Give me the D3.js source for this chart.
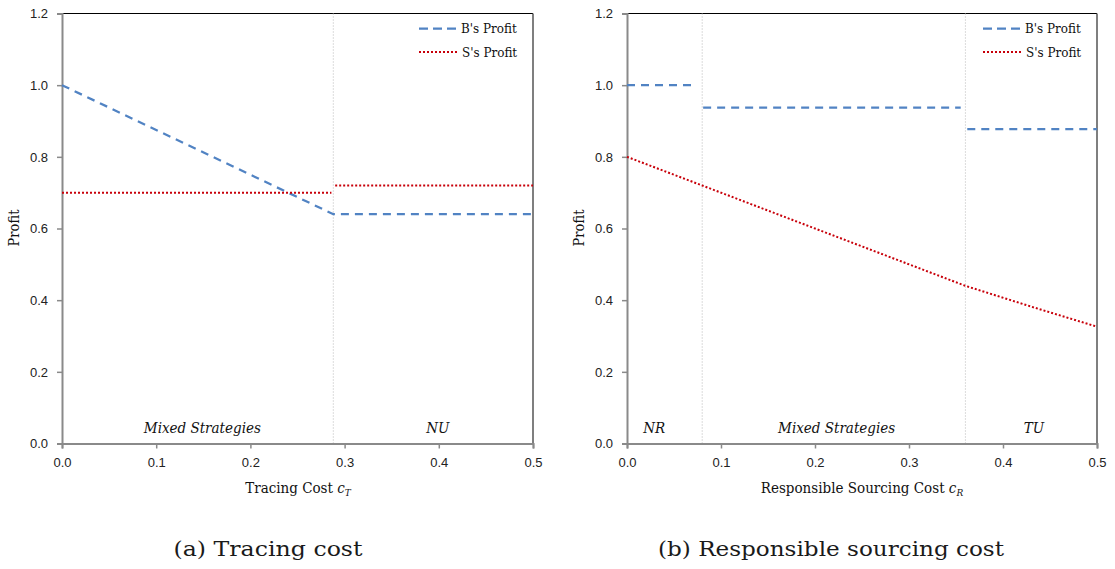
<!DOCTYPE html>
<html>
<head>
<meta charset="utf-8">
<script src="https://cdn.jsdelivr.net/npm/d3@7"></script>
<style>
body { margin: 0; background: #fff; }
svg { display: block; }
.tick text { font-family: "Liberation Sans", Arial, sans-serif; font-size: 13px; fill: #222; }
.serif { font-family: "DejaVu Serif Condensed", "DejaVu Serif", serif; fill: #111; }
.capt { font-family: "DejaVu Serif", serif; fill: #1a1a1a; }
</style>
</head>
<body>
<svg id="chart" width="1115" height="569"></svg>
<script>
var W = 1115, H = 569;
var yTop = 13.5, yBot = 443.5;

// data
var xTicks = [0, 0.1, 0.2, 0.3, 0.4, 0.5];
var yTicks = [0, 0.2, 0.4, 0.6, 0.8, 1.0, 1.2];

var bLeft = [[[0, 1.0], [0.288, 0.64], [0.5, 0.64]]];
var sLeft = [[[0, 0.70], [0.286, 0.70]], [[0.29, 0.72], [0.5, 0.72]]];
var bordersLeft = [0.288];
var regionsLeft = ["Mixed Strategies", "NU"];
var regionXLeft = [0.149, 0.399];

var bRight = [[[0, 1.0], [0.074, 1.0]], [[0.081, 0.9375], [0.355, 0.9375]], [[0.362, 0.877], [0.5, 0.877]]];
var sRight = [[[0, 0.80], [0.08, 0.72], [0.36, 0.44], [0.43, 0.382], [0.5, 0.326]]];
var bordersRight = [0.08, 0.36];
var regionsRight = ["NR", "Mixed Strategies", "TU"];
var regionXRight = [0.029, 0.223, 0.433];

var svg = d3.select('#chart');

function drawPanel(opt){
	var x = d3.scaleLinear().domain([0, 0.5]).range([opt.x0, opt.x1]);
	var y = d3.scaleLinear().domain([0, 1.2]).range([yBot, yTop]);
	var g = svg.append('g');

	// frame: top black, right dark
	g.append('line').attr('x1', opt.x0).attr('x2', opt.x1).attr('y1', yTop).attr('y2', yTop)
		.attr('stroke', '#000').attr('stroke-width', 1.2);
	g.append('line').attr('x1', opt.x1).attr('x2', opt.x1).attr('y1', yTop).attr('y2', yBot)
		.attr('stroke', '#555').attr('stroke-width', 1.5);

	// region borders
	g.selectAll('.border').data(opt.borders).enter().append('line')
		.attr('x1', d => x(d)).attr('x2', d => x(d))
		.attr('y1', yTop).attr('y2', yBot)
		.attr('stroke', '#b8b8b8').attr('stroke-width', 1)
		.attr('stroke-dasharray', '1,2');

	var yAxis = d3.axisLeft(y).tickValues(yTicks).tickFormat(d3.format('.1f'))
		.tickSize(5).tickPadding(9);
	var ya = g.append('g').attr('transform', `translate(${opt.x0},0)`).call(yAxis);
	var xAxis = d3.axisBottom(x).tickValues(xTicks).tickFormat(d3.format('.1f'))
		.tickSize(5).tickPadding(9);
	var xa = g.append('g').attr('transform', `translate(0,${yBot})`).call(xAxis);
	[ya, xa].forEach(function(a){
		a.select('.domain').attr('stroke', '#8a8a8a').attr('stroke-width', 2);
		a.selectAll('.tick line').attr('stroke', '#8a8a8a').attr('stroke-width', 1.5);
	});

	var line = d3.line().x(d => x(d[0])).y(d => y(d[1]));
	g.selectAll('.bline').data(opt.b).enter().append('path')
		.attr('d', line).attr('fill', 'none')
		.attr('stroke', '#5183c3').attr('stroke-width', 2.25)
		.attr('stroke-dasharray', '8,6');
	g.selectAll('.sline').data(opt.s).enter().append('path')
		.attr('d', line).attr('fill', 'none')
		.attr('stroke', '#c8000a').attr('stroke-width', 2)
		.attr('stroke-dasharray', '2,2');

	// region names
	g.selectAll('.region').data(opt.regions).enter().append('text')
		.attr('class', 'serif')
		.attr('x', (d, i) => x(opt.regionX[i])).attr('y', 433)
		.attr('text-anchor', 'middle')
		.style('font-style', 'italic').style('font-size', '15px')
		.text(d => d);

	// legend
	var lx = opt.x1 - 114;
	g.append('line').attr('x1', lx).attr('x2', lx + 40).attr('y1', 28.5).attr('y2', 28.5)
		.attr('stroke', '#5183c3').attr('stroke-width', 2.25).attr('stroke-dasharray', '9,5');
	g.append('line').attr('x1', lx).attr('x2', lx + 38).attr('y1', 52).attr('y2', 52)
		.attr('stroke', '#c8000a').attr('stroke-width', 2).attr('stroke-dasharray', '2,2');
	g.append('text').attr('class', 'serif').attr('x', lx + 42).attr('y', 33).text("B's Profit")
		.style('font-size', '13.3px');
	g.append('text').attr('class', 'serif').attr('x', lx + 43).attr('y', 56.5).text("S's Profit")
		.style('font-size', '13.3px');

	// y title
	g.append('text').attr('class', 'serif')
		.attr('transform', `translate(${opt.x0 - 43},228) rotate(-90)`)
		.attr('text-anchor', 'middle')
		.style('font-size', '14.5px')
		.text('Profit');

	// x title
	var xt = g.append('text').attr('class', 'serif')
		.attr('x', opt.titleX).attr('y', 493)
		.attr('text-anchor', 'middle')
		.style('font-size', '15px');
	xt.append('tspan').text(opt.title + ' ');
	xt.append('tspan').style('font-style', 'italic').text('c');
	xt.append('tspan').style('font-style', 'italic').style('font-size', '10px').attr('dy', 3).text(opt.sub);

	// caption
	svg.append('text').attr('class', 'capt')
		.attr('x', opt.capX).attr('y', 556)
		.attr('text-anchor', 'middle')
		.attr('textLength', opt.capW).attr('lengthAdjust', 'spacingAndGlyphs')
		.style('font-size', '21px')
		.text(opt.caption);
}

drawPanel({x0: 62, x1: 533, b: bLeft, s: sLeft, borders: bordersLeft,
	regions: regionsLeft, regionX: regionXLeft,
	title: 'Tracing Cost', sub: 'T', titleX: 298, capX: 268, capW: 189, caption: '(a) Tracing cost'});
drawPanel({x0: 627, x1: 1097, b: bRight, s: sRight, borders: bordersRight,
	regions: regionsRight, regionX: regionXRight,
	title: 'Responsible Sourcing Cost', sub: 'R', titleX: 862, capX: 831, capW: 346, caption: '(b) Responsible sourcing cost'});
</script>
</body>
</html>
